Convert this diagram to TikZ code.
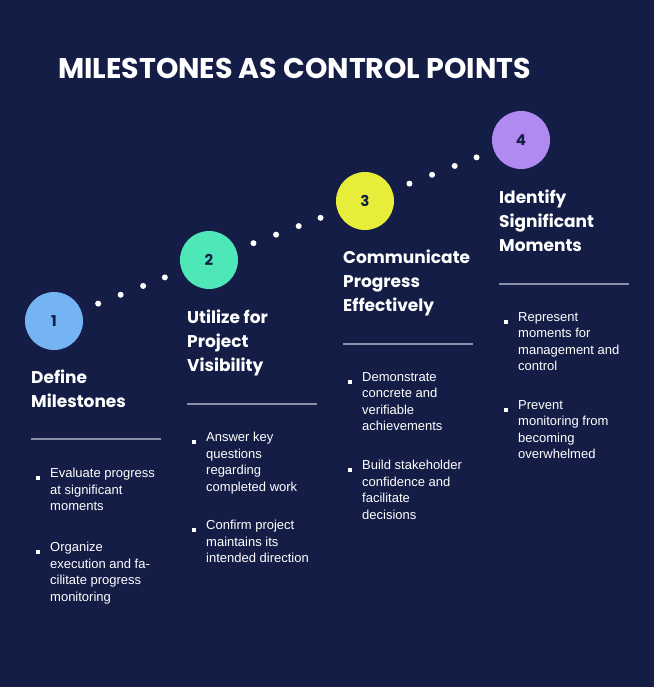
\documentclass[tikz,border=0pt]{standalone}
\usepackage{fontspec}
\setmainfont{Liberation Sans}
\newfontfamily\headfont{Poppins}
\usetikzlibrary{positioning, calc}
\definecolor{bgnavy}{HTML}{141D45}
\definecolor{stepA}{HTML}{74B4F4}
\definecolor{stepB}{HTML}{4EE8B8}
\definecolor{stepC}{HTML}{E6EE3A}
\definecolor{stepD}{HTML}{B08AF0}
\definecolor{rulegray}{HTML}{8A90A8}
\begin{document}
\begin{tikzpicture}[x=1pt, y=-1pt,% styles used in image code
milestone/.style = {circle, minimum size=58pt, inner sep=0pt,
               font=\headfont\bfseries\fontsize{15}{15}\selectfont, text=bgnavy},
head/.style = {anchor=north west, align=left, text=white, inner sep=0pt,
               font=\headfont\bfseries\fontsize{17}{24}\selectfont},
item/.style = {anchor=north west, align=left, text=white, inner sep=0pt,
               font=\fontsize{13}{16.5}\selectfont},
square/.style = {fill=white, minimum size=3.5pt, inner sep=0pt}
                        ]
	\fill[bgnavy] (0,0) rectangle (654,687);
	\node[anchor=west, text=white, inner sep=0pt,
	      font=\headfont\bfseries\fontsize{28.5}{28}\selectfont] (title) at (58,68) {MILESTONES AS CONTROL POINTS};

	% milestones
	\node[milestone, fill=stepA] (s1) at (54,321) {1};
	\node[milestone, fill=stepB] (s2) at (209,260) {2};
	\node[milestone, fill=stepC] (s3) at (365,201) {3};
	\node[milestone, fill=stepD] (s4) at (521,140) {4};

	% dotted path
	\foreach \a/\b in {s1/s2, s2/s3, s3/s4}
	  \foreach \t in {0.285,0.43,0.575,0.715}
	    \fill[white] ($(\a)!\t!(\b)$) circle (3pt);

	% headings
	\node[head] (h1) at (31,370) {Define\\Milestones};
	\node[head] (h2) at (187,310) {Utilize for\\Project\\Visibility};
	\node[head] (h3) at (343,250) {Communicate\\Progress\\Effectively};
	\node[head] (h4) at (499,190) {Identify\\Significant\\Moments};

	% separators
	\draw[rulegray, line width=1.3pt] (31,439) -- (161,439);
	\draw[rulegray, line width=1.3pt] (187,404) -- (317,404);
	\draw[rulegray, line width=1.3pt] (343,344) -- (473,344);
	\draw[rulegray, line width=1.3pt] (499,284) -- (629,284);

	% items
	\node[item] (i1a) at (50,468) {Evaluate progress\\at significant\\moments};
	\node[item] (i1b) at (50,542) {Organize\\execution and fa-\\cilitate progress\\monitoring};
	\node[item] (i2a) at (206,432) {Answer key\\questions\\regarding\\completed work};
	\node[item] (i2b) at (206,520) {Confirm project\\maintains its\\intended direction};
	\node[item] (i3a) at (362,372) {Demonstrate\\concrete and\\verifiable\\achievements};
	\node[item] (i3b) at (362,460) {Build stakeholder\\confidence and\\facilitate\\decisions};
	\node[item] (i4a) at (518,312) {Represent\\moments for\\management and\\control};
	\node[item] (i4b) at (518,400) {Prevent\\monitoring from\\becoming\\overwhelmed};
	\foreach \i in {i1a,i1b,i2a,i2b,i3a,i3b,i4a,i4b}
	  \node[square] (b-\i) at ([xshift=-12pt, yshift=-10pt]\i.north west) {};
\end{tikzpicture}
\end{document}
